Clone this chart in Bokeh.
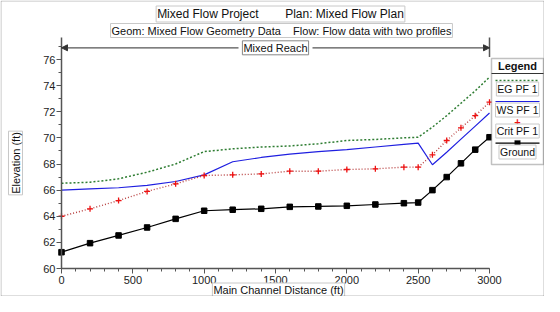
from bokeh.plotting import figure
from bokeh.models import (Range1d, SingleIntervalTicker, Label, BoxAnnotation, Arrow,
                          NormalHead)
from bokeh.embed import file_html
from bokeh.resources import INLINE

# ---------------- data ----------------
stations = [0, 200, 400, 600, 800, 1000, 1200, 1400, 1600, 1800, 2000, 2200, 2400,
            2500, 2600, 2700, 2800, 2900, 3000]
eg_pf1 = [66.53, 66.60, 66.87, 67.37, 68.00, 68.95, 69.16, 69.30, 69.38, 69.55, 69.80,
          69.88, 70.00, 70.05, 70.82, 71.70, 72.65, 73.60, 74.65]
ws_pf1 = [66.00, 66.10, 66.18, 66.36, 66.66, 67.17, 68.17, 68.50, 68.75, 68.95, 69.10,
          69.30, 69.50, 69.60, 67.94, 68.90, 69.90, 70.90, 71.90]
crit_pf1 = [64.00, 64.57, 65.20, 65.90, 66.48, 67.12, 67.17, 67.24, 67.45, 67.45, 67.58,
            67.63, 67.76, 67.76, 68.70, 69.80, 70.77, 71.70, 72.73]
ground = [61.25, 61.94, 62.53, 63.14, 63.80, 64.42, 64.50, 64.57, 64.72, 64.75, 64.80,
          64.90, 65.00, 65.05, 66.00, 67.00, 68.05, 69.10, 70.05]
reach_name = "Mixed Reach"
reach_start, reach_end = stations[0], stations[-1]
NB = "\u00a0"
series_names = ["EG PF 1", "WS PF 1", "Crit PF 1", "Ground"]
title1 = "Mixed Flow Project" + NB * 8 + "Plan: Mixed Flow Plan"
title2 = "Geom: Mixed Flow Geometry Data" + NB * 4 + "Flow: Flow data with two profiles"
x_title = "Main Channel Distance (ft)"
y_title = "Elevation (ft)"

# ---------------- layout helpers (pixel -> data) ----------------
W, H = 544, 296
FX0, FY0 = 61, 268              # pixel position of (0 ft, 60 ft)
XPX = 428 / 3000.0              # px per ft (station)
YPX = 209 / 16.0                # px per ft (elevation)
Y0 = 60.0

def dx(px):
    return (px - FX0) / XPX

def dy(py):
    return Y0 + (FY0 - py) / YPX

FONT = "Liberation Sans"

p = figure(width=W, height=H, output_backend="svg", toolbar_location=None,
           x_range=Range1d(dx(0), dx(W)), y_range=Range1d(dy(H), dy(0)),
           min_border_left=0, min_border_bottom=0, min_border_top=0,
           min_border_right=0)
p.outline_line_color = None
p.xgrid.visible = False
p.ygrid.visible = False
p.background_fill_color = "white"
p.border_fill_color = "white"

# axes (drawn at fixed data locations inside the full-canvas frame)
p.xaxis.ticker = SingleIntervalTicker(interval=500, num_minor_ticks=5)
p.yaxis.ticker = SingleIntervalTicker(interval=2, num_minor_ticks=2)
p.xaxis.bounds = (reach_start, reach_end)
p.yaxis.bounds = (Y0, dy(37))
p.xaxis.fixed_location = Y0
p.yaxis.fixed_location = reach_start
for ax in (p.xaxis[0], p.yaxis[0]):
    ax.axis_line_color = "#555555"
    ax.axis_line_width = 1.5
    ax.major_tick_line_color = "#555555"
    ax.minor_tick_line_color = "#555555"
    ax.major_tick_in = 0
    ax.major_tick_out = 5
    ax.minor_tick_in = 0
    ax.minor_tick_out = 3
    ax.major_label_text_font = FONT
    ax.major_label_text_font_size = "11px"
    ax.major_label_text_color = "#222222"
p.xaxis.major_label_standoff = 2
p.yaxis.major_label_standoff = 1

# data series
p.line(stations, eg_pf1, line_color="#2e7d32", line_dash="2 2", line_width=1.5)
p.line(stations, ws_pf1, line_color="#1f1fe0", line_width=1.2)
p.line(stations, crit_pf1, line_color="#b84040", line_dash="1 2", line_width=1.4)
p.scatter(stations, crit_pf1, marker="cross", size=6, line_color="#ee1111", line_width=1.3)
p.line(stations, ground, line_color="black", line_width=1.2)
p.scatter(stations, ground, marker="square", size=5.5, fill_color="black", line_color="black")

# reach bracket
reach_y = dy(47.3)
reach_mid = (reach_start + reach_end) / 2
half_gap = 37 / XPX
p.segment(x0=[reach_end], y0=[dy(56.5)], x1=[reach_end], y1=[dy(37)],
          line_color="#555555", line_width=1.5)
for xs, xe in ((reach_mid - half_gap, reach_start), (reach_mid + half_gap, reach_end)):
    p.add_layout(Arrow(x_start=xs, y_start=reach_y, x_end=xe, y_end=reach_y,
                       line_color="#555555", line_width=1.3,
                       end=NormalHead(size=6, fill_color="#333333", line_color="#333333",
                                      line_width=1)))

def box_label(x, y, text, size="11px", border="#c8c8c8", angle=0, bold=False,
              color="#111111"):
    lab = Label(x=x, y=y, text=text, text_font=FONT, text_font_size=size,
                text_align="center", text_baseline="middle", angle=angle,
                text_color=color, border_line_color=border,
                background_fill_color="white" if border else None,
                text_font_style="bold" if bold else "normal")
    try:
        lab.padding = 1
    except Exception:
        pass
    p.add_layout(lab)
    return lab

box_label(reach_mid, reach_y, reach_name, border="#888888")

# titles
box_label(dx(280), dy(13.5), title1, size="12px")
box_label(dx(281), dy(30), title2, size="11px")
box_label(dx(278), dy(289.5), x_title, size="11px")
box_label(dx(15), dy(162.5), y_title, size="11px", angle=1.5707963)

# legend
LX0, LX1, LY0, LY1 = 491, 543, 58, 164
p.add_layout(BoxAnnotation(left=dx(LX0), right=dx(LX1), top=dy(LY0), bottom=dy(LY1),
                           fill_color="white", fill_alpha=1, line_color="#333333",
                           line_width=1.5))
lcx = (LX0 + LX1) / 2
box_label(dx(lcx), dy(65), "Legend", size="11px", bold=True, border=None)
p.add_layout(Arrow(x_start=dx(LX0), y_start=dy(73), x_end=dx(LX1), y_end=dy(73),
                   end=None, line_color="#333333", line_width=1.2))
SW0, SW1 = LX0 + 4, LX1 - 4
p.add_layout(Arrow(x_start=dx(SW0), y_start=dy(80), x_end=dx(SW1), y_end=dy(80), end=None,
                   line_color="#2e7d32", line_dash="2 2", line_width=1.5))
box_label(dx(lcx), dy(88.5), series_names[0], size="10.5px")
p.add_layout(Arrow(x_start=dx(SW0), y_start=dy(101), x_end=dx(SW1), y_end=dy(101), end=None,
                   line_color="#1f1fe0", line_width=1.2))
box_label(dx(lcx), dy(109.5), series_names[1], size="10.5px")
box_label(dx(lcx), dy(121.5), "+", size="11px", border=None, bold=True, color="#ee1111")
box_label(dx(lcx), dy(130.5), series_names[2], size="10.5px")
p.add_layout(Arrow(x_start=dx(SW0), y_start=dy(142.7), x_end=dx(SW1), y_end=dy(142.7),
                   end=None, line_color="black", line_width=1.2))
p.add_layout(BoxAnnotation(left=dx(lcx - 2.8), right=dx(lcx + 2.8), top=dy(139.9),
                           bottom=dy(145.5), fill_color="black", fill_alpha=1,
                           line_color="black"))
box_label(dx(lcx), dy(151.5), series_names[3], size="10.5px")

# outer border of the whole chart
p.add_layout(BoxAnnotation(left=dx(0.5), right=dx(W - 0.5), top=dy(0.5), bottom=dy(H - 0.5),
                           fill_alpha=0, line_color="#222222", line_width=1))

open("out.html", "w").write(file_html(p, INLINE))
